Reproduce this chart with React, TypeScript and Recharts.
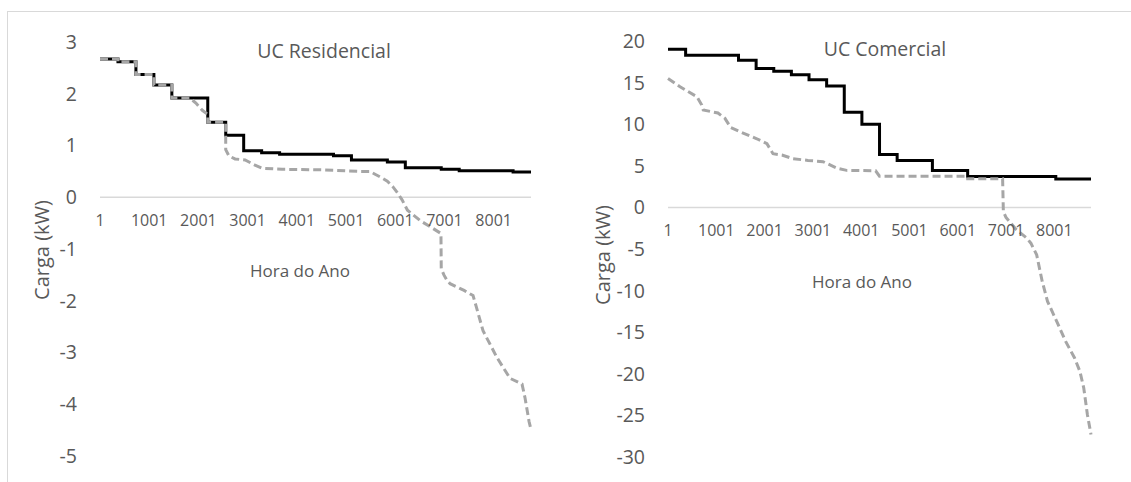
import React from "react";
import { LineChart, Line, XAxis, YAxis, ReferenceLine } from "recharts";

// 24 blocks of 365 hours, sorted load duration curve
const stepHours = [1, 366, 731, 1096, 1461, 1826, 2191, 2556, 2921, 3286, 3651, 4016, 4381, 4746, 5111, 5476, 5841, 6206, 6571, 6936, 7301, 7666, 8031, 8396, 8760];

const resLoad = [2.67, 2.62, 2.37, 2.17, 1.92, 1.92, 1.45, 1.2, 0.9, 0.86, 0.83, 0.83, 0.83, 0.8, 0.72, 0.72, 0.68, 0.57, 0.57, 0.54, 0.51, 0.51, 0.51, 0.49, 0.49];

const comLoad = [19.0, 18.3, 18.3, 18.3, 17.7, 16.7, 16.35, 15.95, 15.35, 14.6, 11.45, 10.0, 6.35, 5.65, 5.65, 4.45, 4.45, 3.7, 3.7, 3.7, 3.7, 3.7, 3.4, 3.4, 3.4];

// net load (with generation)
const resNetHours = [1, 365, 366, 730, 731, 1095, 1096, 1460, 1461, 1825, 1950, 2080, 2190, 2191, 2555, 2556, 2620, 2745, 2950, 3150, 3300, 3700, 4500, 5300, 5480, 5600, 5700, 5840, 5955, 6050, 6140, 6250, 6505, 6730, 6930, 6936, 6990, 7050, 7115, 7400, 7582, 7643, 7785, 8070, 8334, 8578, 8639, 8720, 8760];
const resNetLoad = [2.67, 2.67, 2.62, 2.62, 2.37, 2.37, 2.17, 2.17, 1.92, 1.92, 1.82, 1.68, 1.6, 1.45, 1.45, 0.92, 0.8, 0.74, 0.72, 0.62, 0.56, 0.54, 0.53, 0.5, 0.5, 0.44, 0.39, 0.31, 0.2, 0.08, -0.05, -0.25, -0.45, -0.58, -0.7, -1.38, -1.5, -1.6, -1.67, -1.8, -1.9, -2.1, -2.58, -3.1, -3.5, -3.61, -3.88, -4.33, -4.49];

const comNetHours = [1, 250, 600, 700, 730, 1035, 1180, 1300, 1490, 1840, 2050, 2175, 2360, 2590, 2900, 3210, 3500, 3700, 4300, 4380, 6200, 6205, 6930, 6945, 7000, 7200, 7430, 7515, 7635, 7750, 7860, 8050, 8235, 8420, 8530, 8610, 8685, 8760];
const comNetLoad = [15.5, 14.5, 13.3, 12.3, 11.7, 11.35, 10.7, 9.6, 9.1, 8.25, 7.65, 6.45, 6.3, 5.85, 5.65, 5.5, 4.72, 4.45, 4.4, 3.75, 3.75, 3.45, 3.45, -0.5, -1.2, -2.6, -3.7, -4.3, -5.7, -8.9, -11.3, -13.7, -16.1, -18.1, -19.7, -21.7, -24.9, -27.3];

const xTicks = [1, 1001, 2001, 3001, 4001, 5001, 6001, 7001, 8001];
const resTicks = [-5, -4, -3, -2, -1, 0, 1, 2, 3];
const comTicks = [-30, -25, -20, -15, -10, -5, 0, 5, 10, 15, 20];

const FONT = "'Open Sans', sans-serif";
const TEXT = "#595959";

const toPoints = (hours: number[], vals: number[]) => hours.map((h, i) => ({ h, v: vals[i] }));

interface PanelProps {
  left: number;
  width: number;
  title: string;
  loadVals: number[];
  netHours: number[];
  netVals: number[];
  yTicks: number[];
  margin: { top: number; right: number; bottom: number; left: number };
  titlePos: [number, number];
  xTitlePos: [number, number];
  yTitlePos: [number, number];
}

function Panel({ left, width, title, loadVals, netHours, netVals, yTicks, margin, titlePos, xTitlePos, yTitlePos }: PanelProps) {
  const height = 482;
  const xAxisH = 20;
  const yMin = yTicks[0];
  const yMax = yTicks[yTicks.length - 1];
  const plotH = height - margin.top - margin.bottom - xAxisH;
  // tick labels sit under the zero line, like Excel
  const zeroShift = -(-yMin / (yMax - yMin)) * plotH + 29;

  const XTick = (props: any) => (
    <text x={props.x} y={props.y + zeroShift} textAnchor="middle" fill={TEXT} fontSize={16} fontFamily={FONT}>
      {props.payload.value}
    </text>
  );

  return (
    <div style={{ position: "absolute", left, top: 0, width, height }}>
      <LineChart width={width} height={height} margin={margin}>
        <XAxis
          type="number"
          dataKey="h"
          domain={[1, 8760]}
          ticks={xTicks}
          interval={0}
          height={xAxisH}
          axisLine={false}
          tickLine={false}
          tickSize={0}
          tickMargin={0}
          tick={XTick}
        />
        <YAxis
          type="number"
          domain={[yMin, yMax]}
          ticks={yTicks}
          interval={0}
          width={60}
          axisLine={false}
          tickLine={false}
          tickSize={0}
          tickMargin={23}
          tick={{ fill: TEXT, fontSize: 19.5, fontFamily: FONT }}
        />
        <ReferenceLine y={0} stroke="#d9d9d9" strokeWidth={1.5} />
        <Line
          data={toPoints(stepHours, loadVals)}
          dataKey="v"
          type="stepAfter"
          stroke="#000000"
          strokeWidth={3}
          dot={false}
          isAnimationActive={false}
        />
        <Line
          data={toPoints(netHours, netVals)}
          dataKey="v"
          type="linear"
          stroke="#a6a6a6"
          strokeWidth={3}
          strokeDasharray="8 4"
          dot={false}
          isAnimationActive={false}
        />
      </LineChart>
      <div style={{ position: "absolute", left: titlePos[0], top: titlePos[1], transform: "translate(-50%, -50%)", fontFamily: FONT, fontSize: 19.5, color: TEXT, whiteSpace: "nowrap" }}>
        {title}
      </div>
      <div style={{ position: "absolute", left: xTitlePos[0], top: xTitlePos[1], transform: "translate(-50%, -50%)", fontFamily: FONT, fontSize: 17, color: TEXT, whiteSpace: "nowrap" }}>
        Hora do Ano
      </div>
      <div style={{ position: "absolute", left: yTitlePos[0], top: yTitlePos[1], transform: "translate(-50%, -50%) rotate(-90deg)", fontFamily: FONT, fontSize: 20, color: TEXT, whiteSpace: "nowrap" }}>
        Carga (kW)
      </div>
    </div>
  );
}

export default function App() {
  return (
    <div style={{ position: "absolute", left: 0, top: 0, width: 1131, height: 482, background: "#fff", overflow: "hidden" }}>
      <div style={{ position: "absolute", left: 7, top: 11, width: 1130, height: 480, borderTop: "1.5px solid #d9d9d9", borderLeft: "1.5px solid #d9d9d9" }} />
      <Panel
        left={0}
        width={565}
        title="UC Residencial"
        loadVals={resLoad}
        netHours={resNetHours}
        netVals={resNetLoad}
        yTicks={resTicks}
        margin={{ top: 42, right: 34, bottom: 6, left: 40 }}
        titlePos={[324, 50]}
        xTitlePos={[300, 270]}
        yTitlePos={[41, 250]}
      />
      <Panel
        left={565}
        width={566}
        title="UC Comercial"
        loadVals={comLoad}
        netHours={comNetHours}
        netVals={comNetLoad}
        yTicks={comTicks}
        margin={{ top: 41, right: 40, bottom: 5, left: 43 }}
        titlePos={[320, 48]}
        xTitlePos={[297, 281]}
        yTitlePos={[37, 255]}
      />
    </div>
  );
}
